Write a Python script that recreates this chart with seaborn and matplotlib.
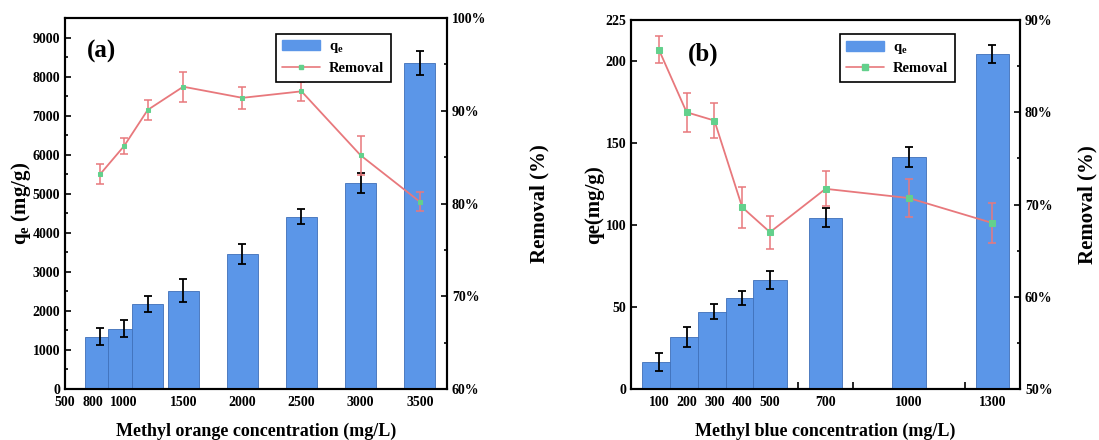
import numpy as np
import pandas as pd
import matplotlib
matplotlib.use("Agg")
import matplotlib.pyplot as plt
import seaborn as sns
from matplotlib.ticker import PercentFormatter, MultipleLocator, FixedLocator
from matplotlib.patches import Patch
from matplotlib.lines import Line2D

# ---------------- data ----------------
mo_conc = [800, 1000, 1200, 1500, 2000, 2500, 3000, 3500]
mo_qe = [1340, 1540, 2180, 2520, 3460, 4415, 5270, 8345]
mo_qe_err = [210, 220, 210, 300, 250, 200, 250, 300]
mo_removal = [83.2, 86.2, 90.1, 92.6, 91.4, 92.1, 85.2, 80.2]
mo_removal_err = [1.1, 0.9, 1.1, 1.6, 1.2, 1.0, 2.1, 1.0]
mo_tick_labels = ["500", "800", "1000", "1500", "2000", "2500", "3000", "3500"]
mo_tick_vals = [500, 740, 1000, 1500, 2000, 2500, 3000, 3500]

mb_conc = [100, 200, 300, 400, 500, 700, 1000, 1300]
mb_qe = [16.7, 31.6, 47.1, 55.5, 66.7, 104.5, 141.6, 204.5]
mb_qe_err = [5.5, 6.0, 4.5, 4.0, 5.5, 6.0, 6.0, 5.5]
mb_removal = [86.8, 80.0, 79.1, 69.7, 67.0, 71.7, 70.7, 68.0]
mb_removal_err = [1.5, 2.1, 1.9, 2.2, 1.8, 1.9, 2.1, 2.2]
mb_tick_labels = ["100", "200", "300", "400", "500", "700", "1000", "1300"]
mb_extra_ticks = [600, 800, 1200]

# ---------------- style ----------------
sns.set_style("ticks")
plt.rcParams["font.family"] = ["Liberation Serif", "DejaVu Serif"]
plt.rcParams["font.weight"] = "bold"
plt.rcParams["axes.labelweight"] = "bold"
plt.rcParams["text.color"] = "black"
plt.rcParams["axes.labelcolor"] = "black"
plt.rcParams["xtick.color"] = "black"
plt.rcParams["ytick.color"] = "black"
plt.rcParams["axes.edgecolor"] = "black"
plt.rcParams["mathtext.fontset"] = "custom"
plt.rcParams["mathtext.rm"] = "Liberation Serif:bold"
plt.rcParams["mathtext.it"] = "Liberation Serif:bold"
plt.rcParams["mathtext.bf"] = "Liberation Serif:bold"

BAR = "#5b96e8"
BAR_EDGE = "#3f6fb8"
LINE = "#e8787c"
MARK = "#63d08c"
TICK_FS = 10
LABEL_FS = 15

fig = plt.figure(figsize=(10.99, 4.40), dpi=100)
ax_a = fig.add_axes([0.0591, 0.1159, 0.3476, 0.843])
ax_b = fig.add_axes([0.5742, 0.1159, 0.3540, 0.8386])


def draw_panel(ax, conc, qe, qe_err, rem, rem_err, width, msize):
    df = pd.DataFrame({"conc": conc, "qe": qe})
    sns.barplot(data=df, x="conc", y="qe", native_scale=True, width=width,
                color=BAR, edgecolor=BAR_EDGE, linewidth=0.6, saturation=1,
                errorbar=None, ax=ax, zorder=3)
    ax.errorbar(conc, qe, yerr=qe_err, fmt="none", ecolor="black",
                elinewidth=1.3, capsize=3, capthick=1.3, zorder=4)
    ax2 = ax.twinx()
    dfr = pd.DataFrame({"conc": conc, "rem": rem})
    ax2.errorbar(conc, rem, yerr=rem_err, fmt="none", ecolor=LINE,
                 elinewidth=1.1, capsize=3, capthick=1.1, zorder=2)
    sns.lineplot(data=dfr, x="conc", y="rem", ax=ax2, color=LINE, lw=1.3,
                 marker="s", markersize=msize, markerfacecolor=MARK,
                 markeredgecolor=MARK, zorder=3)
    return ax2


def style_axes(ax, ax2):
    for a in (ax, ax2):
        for s in a.spines.values():
            s.set_linewidth(1.5)
            s.set_color("black")
            s.set_visible(True)
    ax.tick_params(axis="both", which="both", direction="in", labelsize=TICK_FS,
                   width=1.2, color="black", labelcolor="black")
    ax.tick_params(which="major", length=4)
    ax.tick_params(which="minor", length=2.5)
    ax.tick_params(axis="x", which="both", pad=5)
    ax2.tick_params(axis="y", which="both", direction="in", labelsize=TICK_FS,
                    width=1.2, color="black", labelcolor="black")
    ax2.tick_params(which="major", length=4)
    ax2.tick_params(which="minor", length=2.5)
    for lab in ax.get_xticklabels(which="both") + ax.get_yticklabels() + ax2.get_yticklabels():
        lab.set_fontweight("bold")


def add_legend(ax, anchor, msize):
    handles = [Patch(facecolor=BAR, edgecolor=BAR),
               Line2D([], [], color=LINE, lw=1.2, marker="s", markersize=msize,
                      markerfacecolor=MARK, markeredgecolor=MARK)]
    leg = ax.legend(handles, ["q$_e$", "Removal"], loc="upper right",
                    bbox_to_anchor=anchor, frameon=True, fancybox=False,
                    framealpha=1, edgecolor="black", handlelength=2.6,
                    prop={"size": 10.5, "weight": "bold"}, borderpad=0.45,
                    labelspacing=0.45, handletextpad=0.6)
    leg.get_frame().set_linewidth(1.2)
    leg.set_zorder(10)


# ---------------- panel (a) ----------------
ax2a = draw_panel(ax_a, mo_conc, mo_qe, mo_qe_err, mo_removal, mo_removal_err, 1.32, 3.5)
ax_a.set_xlim(500, 3730)
ax_a.set_ylim(0, 9500)
ax2a.set_ylim(60, 100)
ax_a.set_xticks(mo_tick_vals, mo_tick_labels)
ax_a.yaxis.set_major_locator(MultipleLocator(1000))
ax_a.yaxis.set_minor_locator(MultipleLocator(500))
ax2a.yaxis.set_major_locator(MultipleLocator(10))
ax2a.yaxis.set_minor_locator(MultipleLocator(5))
ax2a.yaxis.set_major_formatter(PercentFormatter(decimals=0))
ax_a.set_xlabel("Methyl orange concentration (mg/L)", fontsize=13, fontweight="bold", labelpad=10)
ax_a.set_ylabel("q$_e$ (mg/g)", fontsize=LABEL_FS, fontweight="bold", labelpad=-0.5)
ax2a.set_ylabel("Removal (%)", fontsize=LABEL_FS, fontweight="bold", labelpad=31)
ax_a.text(0.058, 0.94, "(a)", transform=ax_a.transAxes, fontsize=18,
          fontweight="bold", va="top", ha="left", zorder=10)
style_axes(ax_a, ax2a)
add_legend(ax2a, (0.872, 0.978), 3.5)

# ---------------- panel (b) ----------------
ax2b = draw_panel(ax_b, mb_conc, mb_qe, mb_qe_err, mb_removal, mb_removal_err, 1.2, 5)
ax_b.set_xlim(0, 1400)
ax_b.set_ylim(0, 225)
ax2b.set_ylim(50, 90)
ax_b.set_xticks(mb_conc, mb_tick_labels)
ax_b.xaxis.set_minor_locator(FixedLocator(mb_extra_ticks))
ax_b.set_yticks([0, 50, 100, 150, 200, 225])
ax2b.yaxis.set_major_locator(MultipleLocator(10))
ax2b.yaxis.set_minor_locator(MultipleLocator(5))
ax2b.yaxis.set_major_formatter(PercentFormatter(decimals=0))
ax_b.set_xlabel("Methyl blue concentration (mg/L)", fontsize=13, fontweight="bold", labelpad=10)
ax_b.set_ylabel("qe(mg/g)", fontsize=LABEL_FS, fontweight="bold", labelpad=1)
ax2b.set_ylabel("Removal (%)", fontsize=LABEL_FS, fontweight="bold", labelpad=18)
ax_b.text(0.145, 0.94, "(b)", transform=ax_b.transAxes, fontsize=18,
          fontweight="bold", va="top", ha="left", zorder=10)
style_axes(ax_b, ax2b)
ax_b.tick_params(axis="x", which="minor", length=5)
add_legend(ax2b, (0.851, 0.982), 5)

fig.savefig("out.png", dpi=100)
